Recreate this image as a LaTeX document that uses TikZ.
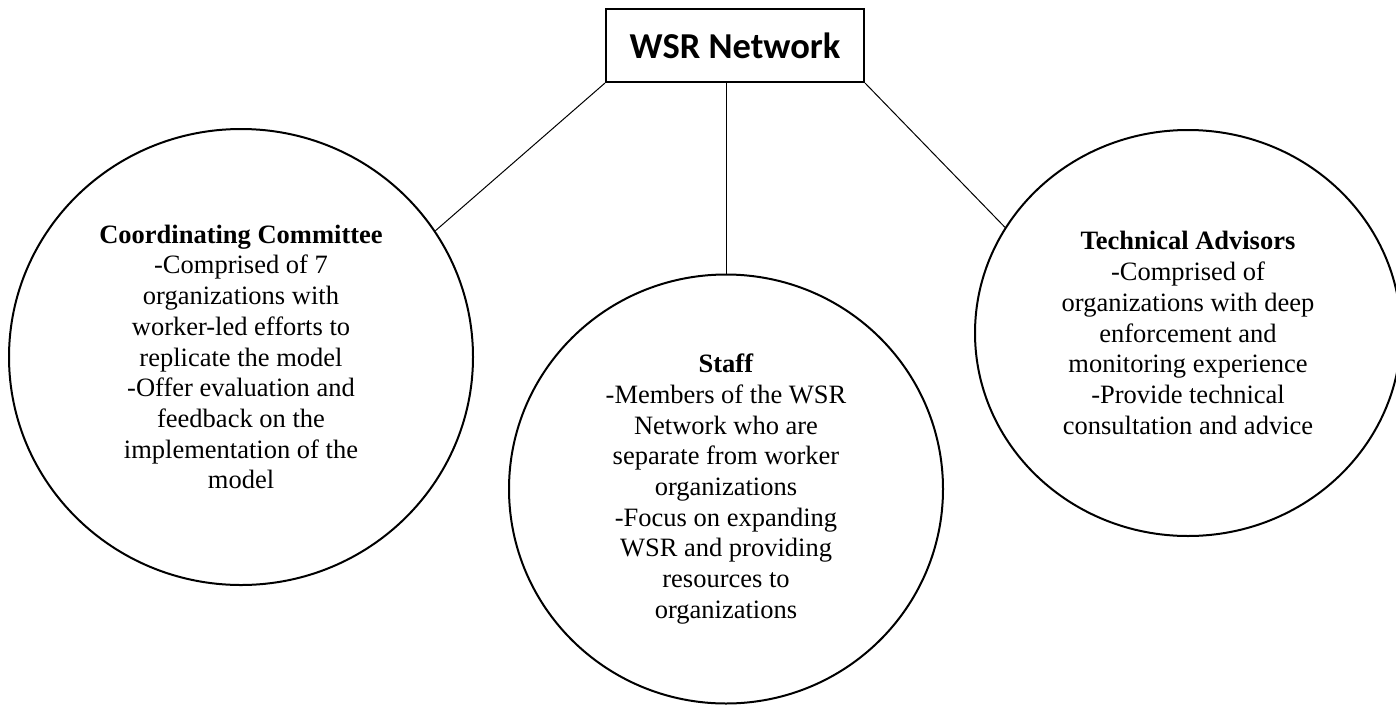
\documentclass[tikz,border=0pt]{standalone}
\usepackage{fontspec}
\setmainfont{Liberation Serif}
\newfontfamily\boxfont{Carlito}
\usetikzlibrary{shapes.geometric}
\tikzset{
  headbox/.style={draw, line width=2pt, minimum width=258pt, minimum height=73pt,
    font=\boxfont\bfseries\fontsize{36.5}{40}\selectfont},
  group/.style={draw, ellipse, line width=2pt, inner sep=0pt, align=center,
    font=\fontsize{26.5}{30.7}\selectfont},
  link/.style={line width=1pt},
}

\begin{document}
\begin{tikzpicture}[x=1pt,y=-1pt]
  \useasboundingbox (0,0) rectangle (1396,704);
  % network box on top
  \node[headbox] (net) at (735,45.5) {WSR Network};
  % the three groups
  \node[group, minimum width=464pt, minimum height=456pt] (cc) at (241,357)
    {\textbf{Coordinating Committee}\\-Comprised of 7\\organizations with\\worker-led efforts to\\replicate the model\\-Offer evaluation and\\feedback on the\\implementation of the\\model};
  \node[group, minimum width=434pt, minimum height=429pt] (staff) at (726,489)
    {\textbf{Staff}\\-Members of the WSR\\Network who are\\separate from worker\\organizations\\-Focus on expanding\\WSR and providing\\resources to\\organizations};
  \node[group, minimum width=426pt, minimum height=406pt] (tech) at (1188,333)
    {\textbf{Technical Advisors}\\-Comprised of\\organizations with deep\\enforcement and\\monitoring experience\\-Provide technical\\consultation and advice};
  % links
  \draw[link] (net.south west) -- (cc.33);
  \draw[link] (staff.north |- net.south) -- (staff.north);
  \draw[link] (net.south east) -- (tech.150);
\end{tikzpicture}
\end{document}
